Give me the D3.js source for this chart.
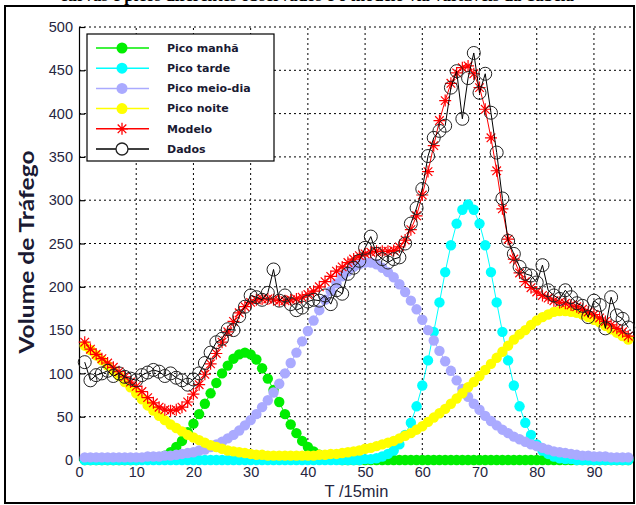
<!DOCTYPE html>
<html>
<head>
<meta charset="utf-8">
<script src="https://cdn.jsdelivr.net/npm/d3@7"></script>
<style>
body { margin: 0; background: #fff; }
</style>
</head>
<body>
<div id="chart"></div>
<script>
// intervalos de 15 min (1..96)
var tempo = d3.range(1, 97);

var xTicks = [0, 10, 20, 30, 40, 50, 60, 70, 80, 90];
var yTicks = [0, 50, 100, 150, 200, 250, 300, 350, 400, 450, 500];

var picoManha = [
  0,0,0,0,0,0,0,0,0,0,
  1,1,2,3,5,9,15,22,32,42,
  53,65,77,89,100,109,117,122,124,122,
  116,106,94,81,67,53,41,31,22,15,
  10,6,4,2,1,0,0,0,0,0,
  0,0,0,0,0,0,0,0,0,0,
  0,0,0,0,0,0,0,0,0,0,
  0,0,0,0,0,0,0,0,0,0,
  0,0,0,0,0,0,0,0,0,0,
  0,0,0,0,0,0];

var picoTarde = [
  0,0,0,0,0,0,0,0,0,0,
  0,0,0,0,0,0,0,0,0,0,
  0,0,0,0,0,0,0,0,0,0,
  0,0,0,0,0,0,0,0,0,0,
  0,0,0,0,0,0,0,0,0,1,
  1,2,4,7,11,18,29,43,62,86,
  115,148,182,217,248,273,289,295,289,273,
  248,217,182,148,115,86,62,43,29,18,
  11,7,4,2,1,1,0,0,0,0,
  0,0,0,0,0,0];

var picoMeioDia = [
  3,3,3,3,3,3,3,3,3,3,
  3,4,4,4,5,5,6,7,8,9,
  11,12,15,18,21,25,29,34,40,46,
  53,61,69,78,88,100,112,124,137,149,
  161,173,185,195,204,212,218,223,226,228,
  228,226,222,217,211,203,194,184,174,162,
  150,138,126,114,103,92,82,73,65,58,
  51,45,40,35,31,27,24,21,18,16,
  14,12,10,9,8,7,6,5,5,4,
  4,4,3,3,3,3];

var picoNoite = [
  132,127,121,115,109,103,97,90,84,77,
  70,63,57,51,46,41,37,33,29,26,
  23,20,17,15,13,11,10,9,8,7,
  6,6,5,5,5,5,5,5,5,5,
  5,6,6,7,7,8,9,10,11,13,
  14,16,18,20,22,25,28,31,35,39,
  44,49,54,59,65,71,77,84,90,97,
  104,111,118,125,132,139,145,150,156,161,
  165,168,171,172,172,171,170,168,165,162,
  159,155,151,147,143,139];

var modelo = [
  136,128,122,117,112,107,102,96,90,85,
  79,72,66,61,58,57,58,61,67,76,
  87,99,111,123,136,148,160,170,177,182,
  185,186,186,185,184,184,185,186,188,191,
  195,200,206,212,218,223,228,232,236,238,
  240,241,241,241,242,246,254,266,282,306,
  333,363,392,415,435,447,453,455,446,430,
  405,372,334,290,255,232,216,206,199,194,
  190,187,184,182,181,179,177,174,171,168,
  164,160,156,152,148,143];

var dados = [
  113,92,98,100,103,97,100,96,94,92,
  98,101,104,102,97,100,95,92,87,93,
  100,112,124,136,140,151,150,166,177,190,
  188,185,193,220,184,190,180,173,176,183,
  185,184,190,180,196,192,215,222,230,245,
  258,238,232,228,232,234,250,273,291,313,
  351,372,380,386,430,449,394,441,470,424,
  446,401,355,302,253,238,223,215,213,205,
  225,196,190,186,196,188,181,178,165,184,
  179,152,188,167,163,153];

var width = 636, height = 505;

var svg = d3.select("#chart")
  .append("svg")
    .attr("width", width)
    .attr("height", height);

// legenda da figura, cortada na borda de cima
svg.append("text")
  .attr("x", 60)
  .attr("y", 1)
  .style("font-family", "'Liberation Serif', serif")
  .style("font-weight", 700)
  .style("font-size", "17px")
  .text("curvas e picos diferentes observados e o modelo via variáveis da Tabela");

svg.append("rect")
  .attr("x", 5)
  .attr("y", 6)
  .attr("width", 629)
  .attr("height", 497)
  .attr("fill", "none")
  .attr("stroke", "#000")
  .attr("stroke-width", 2);

var x = d3.scaleLinear().domain([0, 97]).range([79, 634]);
var y = d3.scaleLinear().domain([0, 500]).range([460, 27]);

// grade pontilhada
svg.append("g")
  .selectAll("line")
  .data(xTicks.slice(1))
  .enter()
  .append("line")
    .attr("x1", function(d) { return x(d); })
    .attr("x2", function(d) { return x(d); })
    .attr("y1", y(0))
    .attr("y2", y(500))
    .attr("stroke", "#000")
    .attr("stroke-dasharray", "2,3");

svg.append("g")
  .selectAll("line")
  .data(yTicks.slice(1))
  .enter()
  .append("line")
    .attr("x1", x(0))
    .attr("x2", x(97))
    .attr("y1", function(d) { return y(d); })
    .attr("y2", function(d) { return y(d); })
    .attr("stroke", "#000")
    .attr("stroke-dasharray", "2,3");

var yAxis = svg.append("g")
  .attr("transform", "translate(" + x(0) + ",0)")
  .call(d3.axisLeft(y).tickValues(yTicks).tickSize(-6).tickSizeOuter(0).tickPadding(6));

var xAxis = svg.append("g")
  .attr("transform", "translate(0," + y(0) + ")")
  .call(d3.axisBottom(x).tickValues(xTicks).tickSize(0).tickSizeOuter(0).tickPadding(7));

svg.selectAll(".tick text")
  .style("font-family", "'Liberation Sans', Arial, sans-serif")
  .style("font-size", "14.5px")
  .attr("fill", "#262640");
svg.selectAll(".domain, .tick line").attr("stroke", "#000").attr("stroke-width", 1.2);

svg.append("text")
  .attr("x", (x(0) + x(97)) / 2)
  .attr("y", 497)
  .attr("text-anchor", "middle")
  .style("font-family", "'Liberation Sans', Arial, sans-serif")
  .style("font-size", "16.5px")
  .attr("fill", "#262640")
  .text("T /15min");

svg.append("text")
  .attr("transform", "translate(34," + 252 + ") rotate(-90)")
  .attr("text-anchor", "middle")
  .attr("textLength", 203)
  .attr("lengthAdjust", "spacingAndGlyphs")
  .style("font-family", "Lato, 'Open Sans', sans-serif")
  .style("font-weight", 700)
  .style("font-size", "21px")
  .attr("fill", "#1a1a33")
  .text("Volume de Tráfego");

var line = d3.line()
  .x(function(d) { return x(d.t); })
  .y(function(d) { return y(d.v); });

function pontos(values) {
  return values.map(function(v, i) { return {t: tempo[i], v: v}; });
}

function picoSerie(values, color) {
  var pts = pontos(values);
  svg.append("path")
    .datum(pts)
    .attr("d", line)
    .attr("fill", "none")
    .attr("stroke", color)
    .attr("stroke-width", 1);
  svg.append("g")
    .selectAll("circle")
    .data(pts)
    .enter()
    .append("circle")
      .attr("cx", function(d) { return x(d.t); })
      .attr("cy", function(d) { return y(d.v); })
      .attr("r", 5.2)
      .attr("fill", color);
}

picoSerie(picoManha, "#00ee00");
picoSerie(picoTarde, "#00ffff");
picoSerie(picoMeioDia, "#aaaaff");
picoSerie(picoNoite, "#ffff00");

var star = "M-6,0H6M0,-6V6M-4.3,-4.3L4.3,4.3M-4.3,4.3L4.3,-4.3";

var modeloPts = pontos(modelo);
svg.append("path")
  .datum(modeloPts)
  .attr("d", line)
  .attr("fill", "none")
  .attr("stroke", "#ff0000")
  .attr("stroke-width", 1);
svg.append("g")
  .selectAll("path")
  .data(modeloPts)
  .enter()
  .append("path")
    .attr("d", star)
    .attr("transform", function(d) { return "translate(" + x(d.t) + "," + y(d.v) + ")"; })
    .attr("stroke", "#ff0000")
    .attr("stroke-width", 1.2)
    .attr("fill", "none");

var dadosPts = pontos(dados);
svg.append("path")
  .datum(dadosPts)
  .attr("d", line)
  .attr("fill", "none")
  .attr("stroke", "#000")
  .attr("stroke-width", 1);
svg.append("g")
  .selectAll("circle")
  .data(dadosPts)
  .enter()
  .append("circle")
    .attr("cx", function(d) { return x(d.t); })
    .attr("cy", function(d) { return y(d.v); })
    .attr("r", 6.5)
    .attr("fill", "none")
    .attr("stroke", "#222")
    .attr("stroke-width", 1);

// legenda
var legendItems = [
  {name: "Pico manhã", color: "#00ee00", mark: "dot"},
  {name: "Pico tarde", color: "#00ffff", mark: "dot"},
  {name: "Pico meio-dia", color: "#aaaaff", mark: "dot"},
  {name: "Pico noite", color: "#ffff00", mark: "dot"},
  {name: "Modelo", color: "#ff0000", mark: "star"},
  {name: "Dados", color: "#000", mark: "ring"}
];

var legend = svg.append("g");
legend.append("rect")
  .attr("x", 87)
  .attr("y", 34)
  .attr("width", 187)
  .attr("height", 127)
  .attr("fill", "#fff")
  .attr("stroke", "#000")
  .attr("stroke-width", 1.2);

var rows = legend.selectAll("g.item")
  .data(legendItems)
  .enter()
  .append("g")
    .attr("class", "item")
    .attr("transform", function(d, i) { return "translate(0," + (48 + i * 20.2) + ")"; });

rows.append("line")
  .attr("x1", 96)
  .attr("x2", 149)
  .attr("stroke", function(d) { return d.color; })
  .attr("stroke-width", 1.5);

rows.filter(function(d) { return d.mark == "dot"; })
  .append("circle")
    .attr("cx", 122)
    .attr("r", 5.5)
    .attr("fill", function(d) { return d.color; });

rows.filter(function(d) { return d.mark == "star"; })
  .append("path")
    .attr("d", star)
    .attr("transform", "translate(122,0)")
    .attr("stroke", "#ff0000")
    .attr("stroke-width", 1.3)
    .attr("fill", "none");

rows.filter(function(d) { return d.mark == "ring"; })
  .append("circle")
    .attr("cx", 122)
    .attr("r", 6)
    .attr("fill", "#fff")
    .attr("stroke", "#222")
    .attr("stroke-width", 1.3);

rows.append("text")
  .attr("x", 167)
  .attr("dy", "0.35em")
  .style("font-family", "'DejaVu Sans', sans-serif")
  .style("font-size", "11px")
  .style("font-weight", 600)
  .attr("fill", "#1a1a33")
  .text(function(d) { return d.name; });
</script>
</body>
</html>
